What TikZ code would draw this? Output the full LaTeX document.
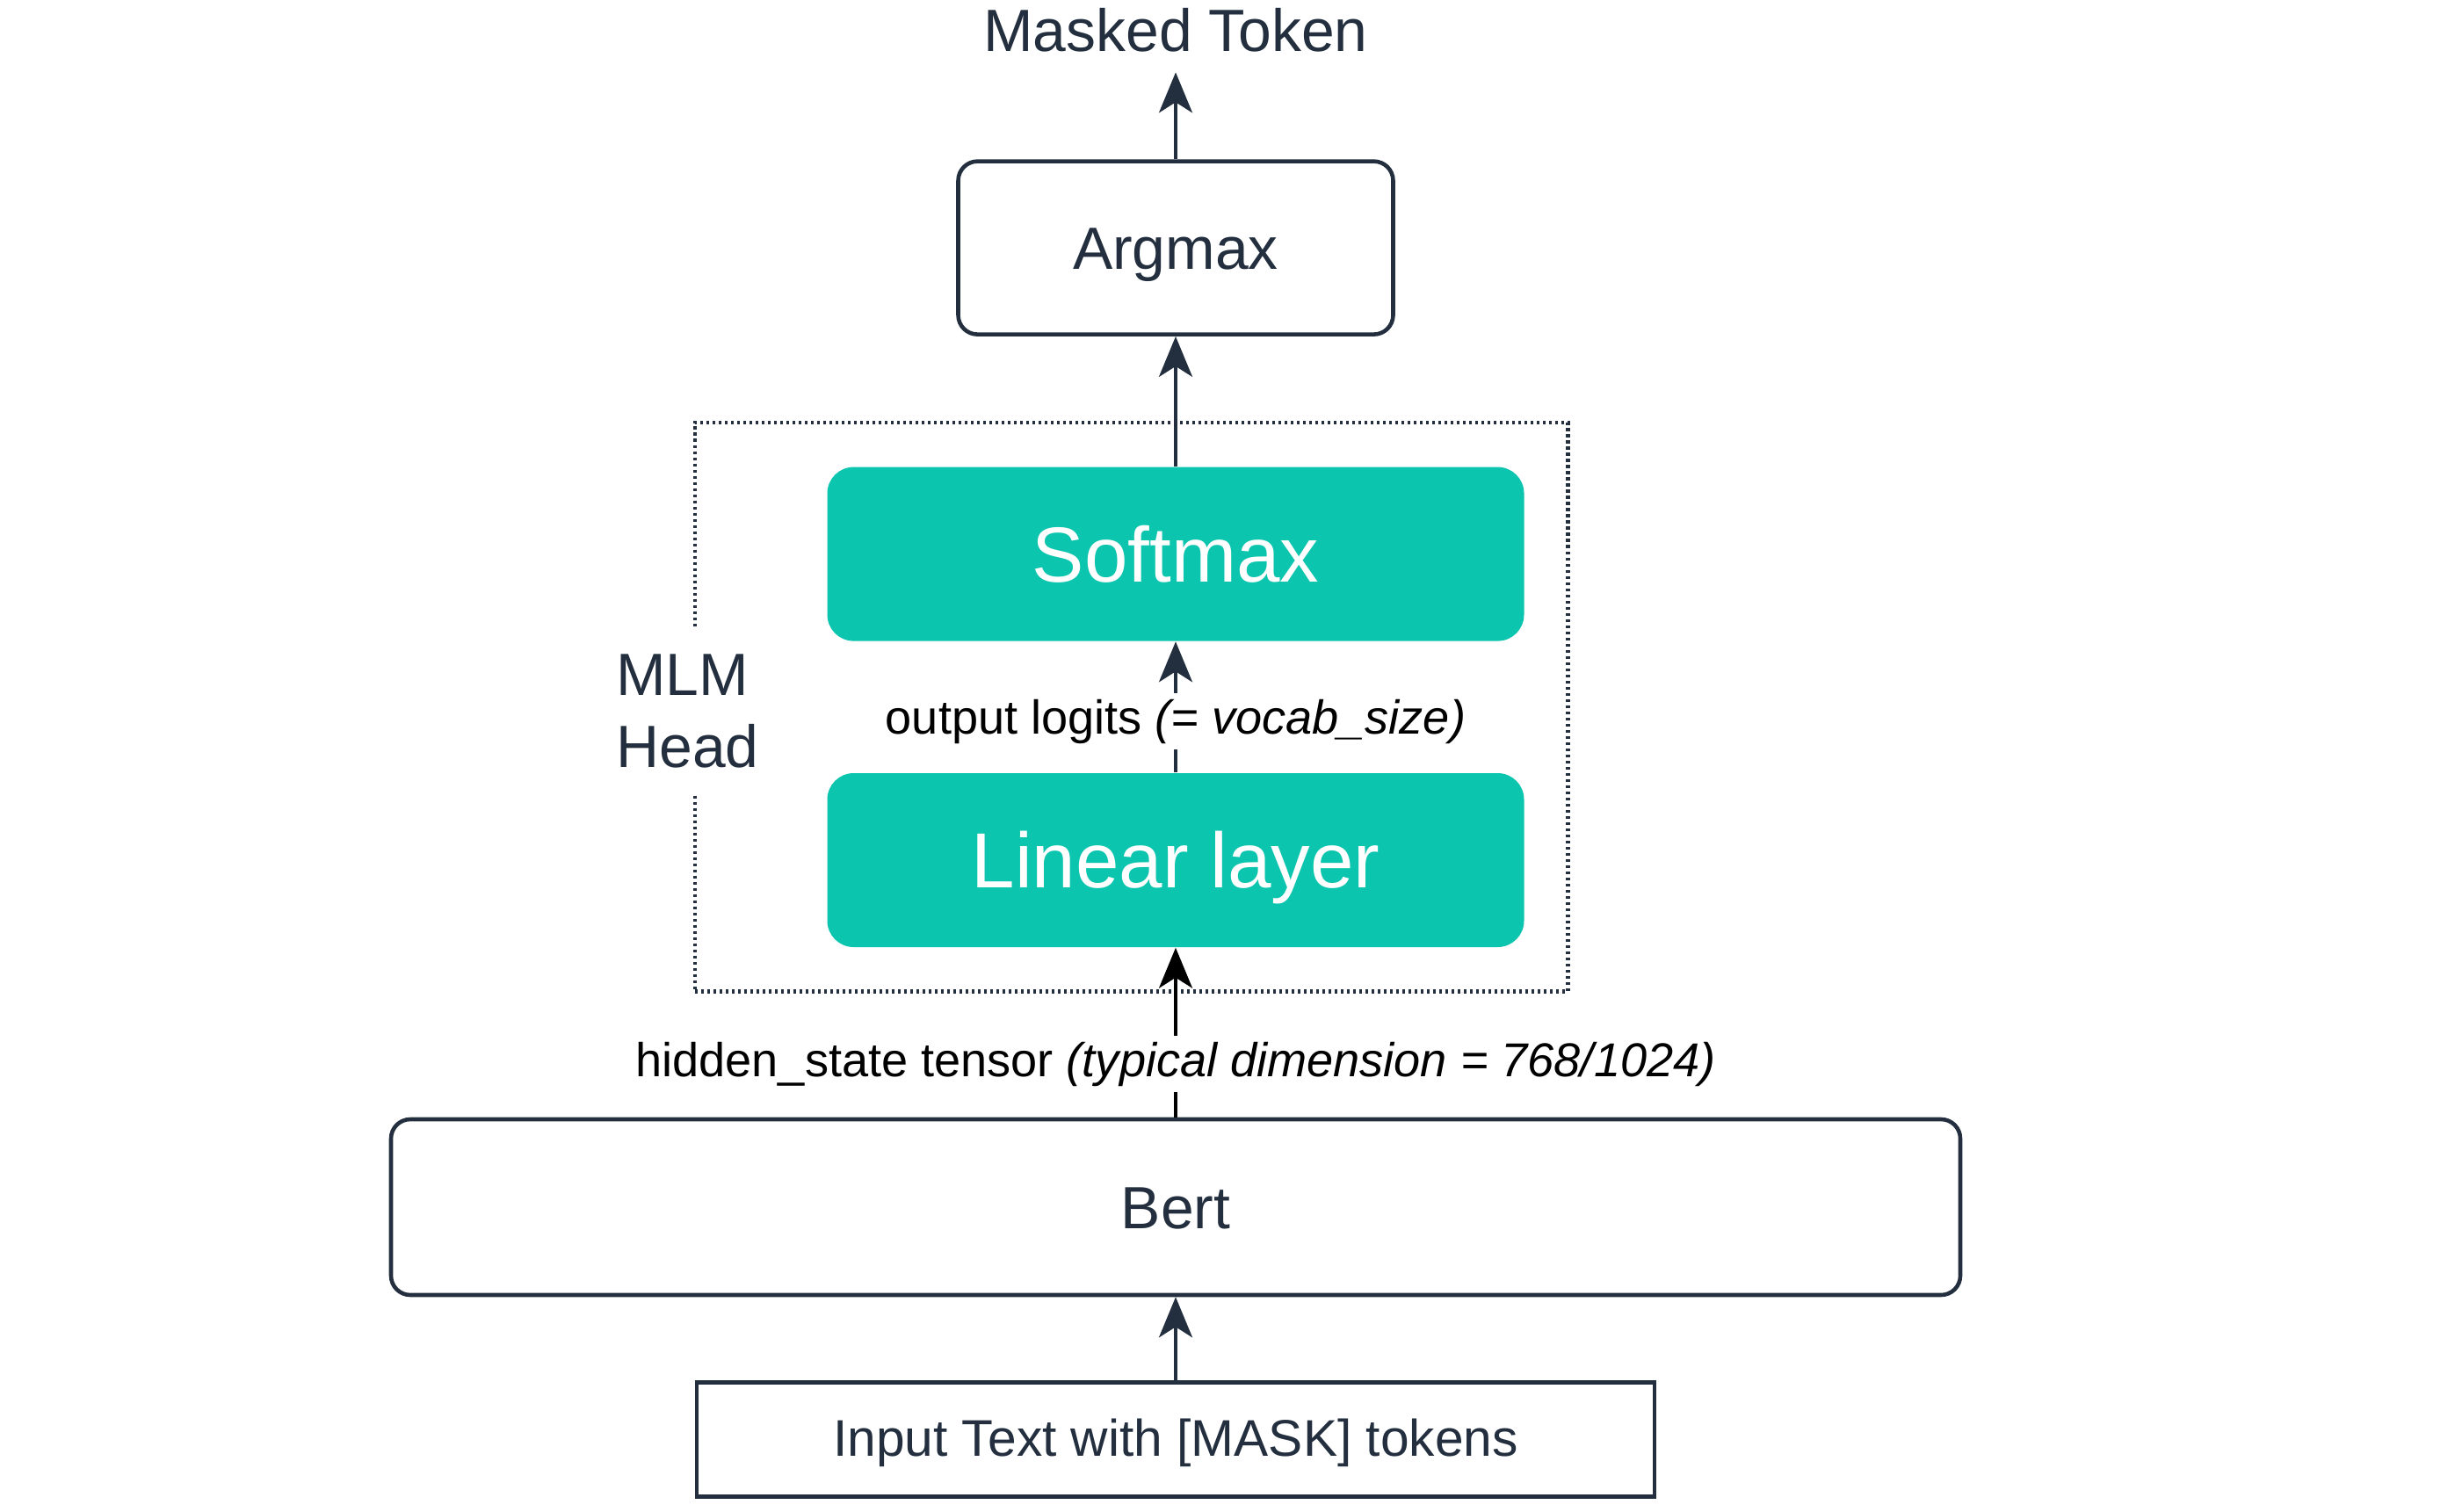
\documentclass[tikz,border=0pt]{standalone}
\usepackage{xcolor}
\usepackage{fontspec}
\setmainfont{Liberation Sans}
\usepackage{tikz}
\usetikzlibrary{arrows.meta,positioning,fit}
\definecolor{mlmInk}{HTML}{232F3E}
\definecolor{mlmTeal}{HTML}{0BC5AE}
\tikzset{
  box/.style={
    rectangle,
    rounded corners=0.22cm,
    draw=mlmInk,
    line width=1.3pt,
    fill=white,
    text=mlmInk,
    align=center,
    font=\fontsize{19.3}{23.3}\selectfont,
    text height=13.8pt,
    text depth=0pt
  },
  layer/.style={
    rectangle,
    rounded corners=0.3cm,
    fill=mlmTeal,
    text=white,
    align=center,
    font=\fontsize{25.3}{30}\selectfont,
    text height=18.1pt,
    text depth=0pt,
    minimum width=7.93cm,
    minimum height=1.98cm
  },
  inputbox/.style={box, rounded corners=0pt, font=\fontsize{16.7}{20}\selectfont,
    text height=11pt, minimum width=10.9cm, minimum height=1.3cm},
  headbox/.style={draw=mlmInk, line width=1.3pt, dash pattern=on 0.035cm off 0.035cm, inner sep=0pt},
  headlabel/.style={fill=white, text=mlmInk, align=left, inner xsep=2pt, inner ysep=0.3cm,
    font=\fontsize{19.3}{23.3}\selectfont},
  title/.style={text=mlmInk, font=\fontsize{19.3}{23.3}\selectfont, inner xsep=0pt, inner ysep=0.23cm, outer sep=0pt},
  edgelabel/.style={fill=white, text=black, inner sep=2pt, font=\fontsize{15.4}{18}\selectfont},
  arrow/.style={-{Stealth[length=0.46cm, width=0.38cm, inset=0.12cm]}, line width=1pt, draw=mlmInk}
}

\begin{document}
\begin{tikzpicture}
  \useasboundingbox (0,0) rectangle (27.94,-17.21);
  \node[box, minimum width=17.86cm, minimum height=2cm] (bert) at (13.38,-13.74) {Bert};
  \node[inputbox, below=0.95cm of bert] (input) {Input Text with [MASK] tokens};
  \node[layer, above=1.93cm of bert] (linear) {Linear layer};
  \node[layer, above=1.49cm of linear] (softmax) {Softmax};
  \node[box, minimum width=4.95cm, minimum height=1.97cm, above=1.48cm of softmax] (argmax) {Argmax};
  \node[title, above=0.99cm of argmax] (masked) {Masked Token};
  % dotted MLM head container
  \coordinate[above left=0.5cm and 1.5cm of softmax.north west] (headtl);
  \coordinate[below right=0.5cm and 0.49cm of linear.south east] (headbr);
  \node[headbox, fit=(headtl)(headbr)] (head) {};
  \node[headlabel] (headtext) at ([xshift=-0.06cm, yshift=-0.05cm]head.west) {MLM\\Head};
  \draw[arrow] (input) -- (bert);
  \draw[arrow, draw=black] (bert) -- node[edgelabel, pos=0.314] {hidden\_state tensor \textit{(typical dimension = 768/1024)}} (linear);
  \draw[arrow] (linear) -- node[edgelabel, pos=0.39] {output logits \textit{(= vocab\_size)}} (softmax);
  \draw[arrow] (softmax) -- (argmax);
  \draw[arrow] (argmax) -- (masked);
\end{tikzpicture}
\end{document}
